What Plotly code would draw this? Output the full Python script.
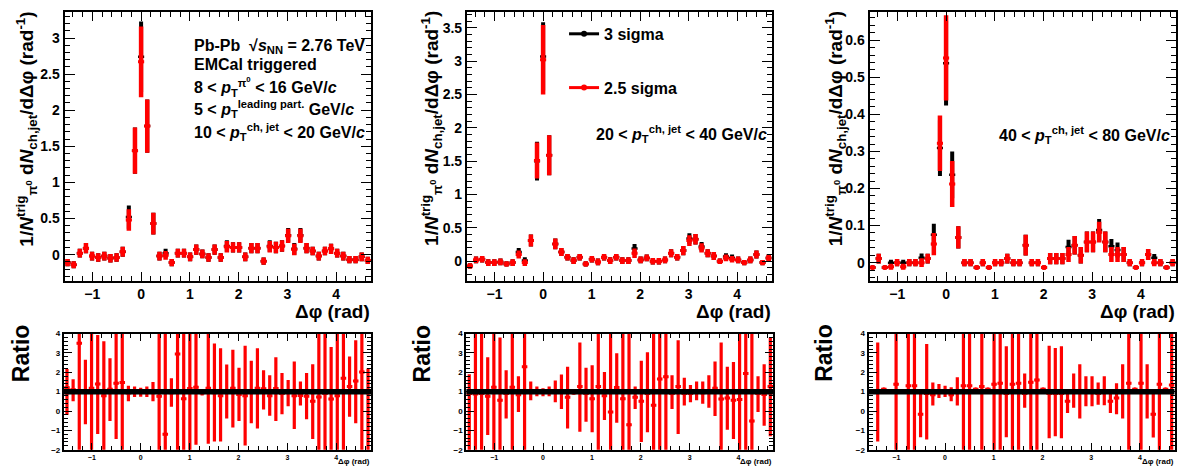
import numpy as np
import plotly.graph_objects as go

# ---------------- data ----------------
n_bins = 50
phi_min = -np.pi / 2
phi_max = 3 * np.pi / 2

# Panel 1: 10 < pT jet < 20
red_1 = [-0.11, -0.14, 0.02, 0.09, -0.02, -0.04, -0.02, -0.05, -0.04, 0.04,
         0.48, 1.44, 2.67, 1.78, 0.43, -0.02, -0.01, -0.11, 0.02, 0.02,
         -0.03, 0.07, 0.01, -0.04, 0.07, -0.04, 0.11, 0.10, 0.10, -0.03,
         0.09, 0.09, -0.09, 0.11, 0.10, 0.12, 0.26, 0.07, 0.26, 0.09,
         0.05, -0.02, 0.05, 0.08, 0.02, -0.02, -0.07, -0.07, -0.03, -0.08]
red_err_1 = [0.05, 0.05, 0.06, 0.07, 0.06, 0.06, 0.06, 0.06, 0.06, 0.07,
             0.15, 0.32, 0.49, 0.37, 0.15, 0.06, 0.06, 0.05, 0.06, 0.06,
             0.06, 0.07, 0.06, 0.06, 0.07, 0.06, 0.08, 0.07, 0.07, 0.06,
             0.07, 0.07, 0.05, 0.08, 0.08, 0.08, 0.10, 0.08, 0.10, 0.07,
             0.06, 0.06, 0.06, 0.07, 0.06, 0.06, 0.05, 0.05, 0.06, 0.05]
black_1 = [-0.11, -0.14, 0.02, 0.09, -0.02, -0.04, -0.02, -0.05, -0.04, 0.04,
           0.52, 1.44, 2.74, 1.78, 0.43, -0.02, 0.02, -0.11, 0.02, 0.02,
           -0.03, 0.07, 0.01, -0.04, 0.07, -0.04, 0.12, 0.10, 0.10, -0.03,
           0.09, 0.09, -0.09, 0.12, 0.10, 0.12, 0.27, 0.08, 0.27, 0.09,
           0.05, -0.02, 0.05, 0.08, 0.02, -0.02, -0.07, -0.07, -0.03, -0.08]
black_err_1 = [0.05, 0.05, 0.06, 0.07, 0.06, 0.06, 0.06, 0.06, 0.06, 0.07,
               0.16, 0.32, 0.49, 0.37, 0.15, 0.06, 0.06, 0.05, 0.06, 0.06,
               0.06, 0.07, 0.06, 0.06, 0.07, 0.06, 0.08, 0.07, 0.07, 0.06,
               0.07, 0.07, 0.05, 0.08, 0.08, 0.08, 0.10, 0.08, 0.10, 0.07,
               0.06, 0.06, 0.06, 0.07, 0.06, 0.06, 0.05, 0.05, 0.06, 0.05]

# Panel 2: 20 < pT jet < 40
red_2 = [-0.07, 0.02, 0.03, -0.02, -0.02, -0.01, -0.04, -0.02, 0.10, -0.02,
         0.31, 1.51, 3.02, 1.59, 0.26, 0.14, 0.06, 0.01, 0.06, -0.04,
         0.03, -0.01, 0.06, 0.01, 0.06, 0.01, 0.01, 0.12, 0.02, 0.05,
         0.0, 0.0, 0.02, 0.12, 0.06, 0.16, 0.31, 0.33, 0.20, 0.12,
         0.08, 0.0, 0.05, 0.03, 0.02, -0.02, 0.02, 0.10, -0.02, 0.05]
red_err_2 = [0.04, 0.05, 0.05, 0.05, 0.05, 0.05, 0.04, 0.05, 0.06, 0.05,
             0.09, 0.27, 0.52, 0.30, 0.08, 0.06, 0.05, 0.05, 0.05, 0.04,
             0.05, 0.05, 0.05, 0.05, 0.05, 0.05, 0.05, 0.07, 0.05, 0.05,
             0.05, 0.05, 0.05, 0.06, 0.05, 0.07, 0.08, 0.08, 0.07, 0.06,
             0.06, 0.04, 0.05, 0.05, 0.05, 0.04, 0.05, 0.06, 0.04, 0.05]
black_2 = [-0.07, 0.02, 0.03, -0.02, -0.02, -0.01, -0.04, -0.02, 0.14, 0.01,
           0.31, 1.50, 3.07, 1.59, 0.26, 0.14, 0.06, 0.01, 0.06, -0.04,
           0.03, -0.01, 0.06, 0.01, 0.06, 0.01, 0.01, 0.19, 0.02, 0.05,
           0.0, 0.0, 0.02, 0.12, 0.06, 0.16, 0.34, 0.33, 0.22, 0.12,
           0.08, 0.0, 0.07, 0.05, 0.02, -0.02, 0.02, 0.10, -0.02, 0.05]
black_err_2 = [0.04, 0.05, 0.05, 0.05, 0.05, 0.05, 0.04, 0.05, 0.06, 0.05,
               0.09, 0.29, 0.51, 0.30, 0.08, 0.06, 0.05, 0.05, 0.05, 0.04,
               0.05, 0.05, 0.05, 0.05, 0.05, 0.05, 0.05, 0.07, 0.05, 0.05,
               0.05, 0.05, 0.05, 0.06, 0.05, 0.07, 0.08, 0.08, 0.07, 0.06,
               0.06, 0.04, 0.05, 0.05, 0.05, 0.04, 0.05, 0.06, 0.04, 0.05]

# Panel 3: 40 < pT jet < 80
red_3 = [-0.013, 0.011, -0.013, -0.011, 0.0, -0.011, 0.0, 0.0, 0.0, 0.011,
         0.050, 0.322, 0.552, 0.212, 0.068, 0.0, 0.0, -0.013, 0.0, -0.013,
         0.0, 0.0, 0.011, 0.0, 0.0, 0.047, 0.0, 0.0, -0.013, 0.011,
         0.011, 0.011, 0.022, 0.047, 0.020, 0.056, 0.056, 0.082, 0.056, 0.022,
         0.022, 0.022, 0.0, -0.013, 0.0, 0.022, 0.0, 0.0, -0.013, 0.0]
red_err_3 = [0.005, 0.013, 0.005, 0.008, 0.010, 0.008, 0.010, 0.010, 0.012, 0.013,
             0.030, 0.075, 0.115, 0.062, 0.030, 0.010, 0.010, 0.005, 0.010, 0.005,
             0.010, 0.010, 0.013, 0.010, 0.010, 0.028, 0.010, 0.010, 0.005, 0.015,
             0.015, 0.015, 0.020, 0.025, 0.022, 0.028, 0.028, 0.028, 0.028, 0.020,
             0.020, 0.020, 0.010, 0.005, 0.010, 0.015, 0.010, 0.010, 0.005, 0.010]
black_3 = [-0.013, 0.011, -0.013, 0.0, 0.0, 0.0, 0.0, 0.0, 0.013, 0.011,
           0.075, 0.309, 0.538, 0.237, 0.068, 0.0, 0.0, -0.013, 0.0, -0.013,
           0.0, 0.0, 0.011, 0.0, 0.0, 0.047, 0.0, 0.0, -0.013, 0.011,
           0.011, 0.011, 0.042, 0.047, 0.020, 0.056, 0.056, 0.088, 0.056, 0.044,
           0.034, 0.022, 0.0, -0.013, 0.0, 0.022, 0.013, 0.0, -0.013, 0.0]
black_err_3 = [0.005, 0.013, 0.005, 0.008, 0.010, 0.008, 0.010, 0.010, 0.012, 0.013,
               0.030, 0.075, 0.114, 0.063, 0.030, 0.010, 0.010, 0.005, 0.010, 0.005,
               0.010, 0.010, 0.013, 0.010, 0.010, 0.028, 0.010, 0.010, 0.005, 0.015,
               0.015, 0.015, 0.020, 0.025, 0.022, 0.028, 0.028, 0.030, 0.028, 0.020,
               0.020, 0.020, 0.010, 0.005, 0.010, 0.015, 0.010, 0.010, 0.005, 0.010]

# Ratios (2.5 sigma / 3 sigma): central value, upper and lower end of the error bar
ratio_1 = [1.2, 1.1, 3.5, 1.0, 1.18, 1.4, 0.79, 1.13, 1.43, 1.47,
           0.93, 0.98, 0.97, 0.98, 1.0, 0.76, -1.2, 0.95, 2.95, 0.64,
           1.16, 1.23, 0.95, 1.18, 0.95, 0.79, 1.0, 1.18, 0.85, 0.79,
           1.0, 1.18, 1.15, 0.79, 1.16, 0.9, 1.0, 0.79, 0.8, 0.76,
           0.5, 0.72, 0.9, 0.62, 0.79, 1.69, 1.26, 1.55, 2.02, 1.0]
ratio_hi_1 = [2.17, 1.64, 4.5, 2.65, 4.5, 3.93, 3.6, 2.72, 4.5, 4.5,
              1.3, 1.26, 1.2, 1.26, 1.5, 4.5, 4.5, 1.69, 4.5, 4.5,
              4.5, 4.5, 1.1, 4.5, 3.49, 3.24, 2.4, 3.16, 2.23, 3.37,
              2.6, 3.24, 2.1, 1.85, 2.78, 1.97, 1.6, 2.56, 1.52, 1.97,
              2.41, 4.5, 4.5, 3.3, 4.5, 4.5, 2.82, 3.66, 4.5, 2.2]
ratio_lo_1 = [-0.2, 0.5, -2.5, -0.68, -2.5, -1.19, -2.5, -0.51, -1.44, -2.5,
              0.5, 0.72, 0.74, 0.72, 0.5, -2.5, -2.5, 0.22, -2.5, -2.5,
              -2.5, -1.74, 0.8, -1.69, -1.57, -1.57, -0.39, -0.85, -0.51, -1.78,
              -0.63, -0.9, 0.08, -0.25, -0.51, -0.17, 0.25, -0.93, 0.28, -0.43,
              -1.44, -2.5, -2.5, -2.5, -2.5, -2.5, -0.29, -0.63, -2.5, -2.5]

ratio_2 = [0.9, 0.88, 0.9, 0.76, 1.23, 0.55, 0.9, 1.23, 0.84, 2.28,
           1.0, 1.0, 0.98, 1.0, 1.0, 1.0, 0.71, 0.95, 1.26, 0.9,
           0.64, 1.26, 0.79, -0.05, 1.21, 0.64, -0.71, 0.71, 0.5, 0.9,
           0.3, 1.65, 1.77, 0.9, 1.26, 0.9, 0.9, 1.0, 0.95, 1.0,
           1.18, 0.62, 0.67, 0.55, 0.59, 1.94, -0.51, 0.9, 0.85, 1.26]
ratio_hi_2 = [1.9, 4.5, 4.5, 2.78, 4.5, 3.8, 2.1, 4.5, 1.8, 4.5,
              1.52, 1.26, 1.18, 1.26, 1.57, 1.89, 2.28, 1.1, 3.54, 2.24,
              2.36, 4.5, 2.02, 4.5, 2.99, 4.5, 4.5, 1.26, 2.6, 3.03,
              4.5, 4.5, 4.5, 1.85, 3.66, 1.72, 1.35, 1.52, 1.52, 1.85,
              2.56, 3.54, 2.28, 2.53, 4.5, 4.5, 4.5, 1.8, 2.41, 3.8]
ratio_lo_2 = [-2.5, -2.5, -2.5, -1.24, -2.5, -2.5, -0.39, -2.5, -0.05, -2.5,
              0.55, 0.76, 0.76, 0.76, 0.45, 0.11, -0.9, 0.85, -1.07, -0.56,
              -1.1, -2.5, -0.46, -2.5, -0.6, -2.5, -2.5, 0.11, -1.6, -1.1,
              -2.5, -2.5, -2.5, 0.11, -1.19, 0.28, 0.45, 0.55, 0.37, 0.17,
              -0.26, -2.5, -0.97, -1.44, -2.5, -2.5, -2.5, -0.05, -0.76, -1.3]

ratio_3 = [1.0, 1.0, 1.13, 1.0, 1.38, 1.0, 1.31, 1.31, -0.17, 0.9,
           0.84, 1.0, 1.0, 0.84, 1.0, 1.31, 1.31, 1.13, 1.26, 1.13,
           1.38, 1.43, 0.9, 1.38, 1.43, 0.9, 1.48, 1.6, 1.13, 0.9,
           0.9, 0.9, 0.5, 1.0, 1.0, 1.0, 1.0, 0.9, 1.0, 0.5,
           0.67, 1.0, 1.43, 1.13, 1.43, 1.0, -0.17, 1.38, 1.13, 1.35]
ratio_hi_3 = [1.05, 3.54, 1.18, 1.05, 4.5, 1.05, 4.5, 4.5, 1.0, 3.46,
              1.47, 1.4, 1.3, 1.23, 1.74, 4.5, 4.5, 1.18, 4.5, 1.18,
              4.5, 4.5, 3.34, 4.5, 4.5, 1.94, 4.5, 4.5, 1.18, 3.37,
              3.25, 3.34, 1.1, 1.94, 2.41, 1.8, 1.8, 1.47, 1.8, 1.1,
              1.43, 2.41, 4.5, 1.18, 4.5, 2.41, 1.03, 4.5, 1.18, 4.5]
ratio_lo_3 = [0.95, -1.57, 1.08, 0.95, -2.5, 0.95, -2.5, -2.5, -1.35, -1.47,
              0.28, 0.67, 0.72, 0.5, 0.28, -2.5, -2.5, 1.08, -2.5, 1.08,
              -2.5, -2.5, -1.35, -2.5, -2.5, 0.17, -2.5, -2.5, 1.08, -1.4,
              -1.3, -1.4, -0.1, 0.17, -0.39, 0.25, 0.25, 0.33, 0.3, -0.1,
              -0.17, -0.39, -2.5, 1.08, -2.5, -0.39, -1.37, -2.5, 1.08, -2.5]

series_names = ["3 sigma", "2.5 sigma"]
jet_labels = ["10 < <i>p</i><sub>T</sub><sup>ch, jet</sup> < 20 GeV/<i>c</i>",
              "20 < <i>p</i><sub>T</sub><sup>ch, jet</sup> < 40 GeV/<i>c</i>",
              "40 < <i>p</i><sub>T</sub><sup>ch, jet</sup> < 80 GeV/<i>c</i>"]

# ---------------- figure ----------------
# The page body has an 8px margin, so the figure is drawn 8px in from the
# window corner; all pixel positions below are window positions.
OFF = 8
W, H = 1186 - 2 * OFF, 475 - 2 * OFF
FONT = "Liberation Sans, Arial, Helvetica, sans-serif"
RED = "#ff0000"
BLACK = "#000000"

bin_w = (phi_max - phi_min) / n_bins
dphi = phi_min + bin_w * (np.arange(n_bins) + 0.5)
half_w = np.full(n_bins, bin_w / 2)

def px(x):
    return min(max((x - OFF) / W, 0.0), 1.0)

def py(y):
    return min(max(1 - (y - OFF) / H, 0.0), 1.0)

top_x_dom = [(64.6, 371.5), (467.7, 773.0), (871.0, 1177.7)]
rat_x_dom = [(64.0, 371.7), (467.0, 774.7), (870.0, 1176.7)]
top_y_dom = [py(282.0), py(8.0)]
rat_y_dom = [py(454.5), py(336.0)]
top_y_range = [[-0.36, 3.36], [-0.29, 3.735], [-0.0485, 0.676]]
top_y_dtick = [0.5, 0.5, 0.1]

fig = go.Figure()

reds = [red_1, red_2, red_3]
red_errs = [red_err_1, red_err_2, red_err_3]
blacks = [black_1, black_2, black_3]
black_errs = [black_err_1, black_err_2, black_err_3]
ratios = [ratio_1, ratio_2, ratio_3]
ratio_his = [ratio_hi_1, ratio_hi_2, ratio_hi_3]
ratio_los = [ratio_lo_1, ratio_lo_2, ratio_lo_3]

for i in range(3):
    xa = "x" if i == 0 else f"x{i+1}"
    ya = "y" if i == 0 else f"y{i+1}"
    fig.add_trace(go.Scatter(
        x=dphi, y=blacks[i], mode="markers", xaxis=xa, yaxis=ya, showlegend=False,
        marker=dict(color=BLACK, size=4),
        error_y=dict(type="data", array=black_errs[i], color=BLACK, thickness=4, width=0),
        error_x=dict(type="data", array=half_w, color=BLACK, thickness=2.5, width=0)))
    fig.add_trace(go.Scatter(
        x=dphi, y=reds[i], mode="markers", xaxis=xa, yaxis=ya, showlegend=False,
        marker=dict(color=RED, size=5),
        error_y=dict(type="data", array=red_errs[i], color=RED, thickness=4.5, width=0),
        error_x=dict(type="data", array=half_w, color=RED, thickness=3, width=0)))

    xr = f"x{i+4}"
    yr = f"y{i+4}"
    r = np.array(ratios[i])
    up = np.array(ratio_his[i]) - r
    dn = r - np.array(ratio_los[i])
    fig.add_trace(go.Scatter(
        x=dphi, y=r, mode="markers", xaxis=xr, yaxis=yr, showlegend=False,
        marker=dict(color=RED, size=4),
        error_y=dict(type="data", symmetric=False, array=up, arrayminus=dn,
                     color=RED, thickness=3.2, width=0),
        error_x=dict(type="data", array=half_w * 0.9, color=RED, thickness=3, width=0)))
    fig.add_trace(go.Scatter(
        x=[phi_min, phi_max], y=[1, 1], mode="lines", xaxis=xr, yaxis=yr,
        showlegend=False, line=dict(color=BLACK, width=5.5)))

# legend-only traces
fig.add_trace(go.Scatter(x=[None], y=[None], mode="lines+markers", name=series_names[0],
                         xaxis="x2", yaxis="y2", legendgroup="a",
                         line=dict(color=BLACK, width=3), marker=dict(color=BLACK, size=6)))
fig.add_trace(go.Scatter(x=[None], y=[None], mode="lines+markers", name=series_names[1],
                         xaxis="x2", yaxis="y2", legendgroup="b",
                         line=dict(color=RED, width=3), marker=dict(color=RED, size=6)))

def axis_common():
    return dict(showline=True, linewidth=2, linecolor=BLACK, mirror="allticks",
                ticks="inside", tickcolor=BLACK, tickwidth=1, showgrid=False,
                zeroline=False, fixedrange=True)

layout = dict(width=W, height=H, margin=dict(l=0, r=0, t=0, b=0), autosize=False,
              paper_bgcolor="white", plot_bgcolor="white",
              font=dict(family=FONT, color=BLACK, size=14, weight="bold"))

for i in range(3):
    kx = "xaxis" if i == 0 else f"xaxis{i+1}"
    ky = "yaxis" if i == 0 else f"yaxis{i+1}"
    a = axis_common()
    a.update(domain=[px(top_x_dom[i][0]), px(top_x_dom[i][1])],
             range=[phi_min, phi_max], anchor="y" if i == 0 else f"y{i+1}",
             tick0=0, dtick=1, ticklen=9,
             minor=dict(ticks="inside", dtick=0.2, ticklen=5, tickcolor=BLACK),
             tickfont=dict(size=14, family=FONT, weight="bold"))
    layout[kx] = a
    b = axis_common()
    b.update(domain=top_y_dom, range=top_y_range[i], anchor="x" if i == 0 else f"x{i+1}",
             tick0=0, dtick=top_y_dtick[i], ticklen=10,
             minor=dict(ticks="inside", dtick=top_y_dtick[i] / 5, ticklen=5, tickcolor=BLACK),
             tickfont=dict(size=14, family=FONT, weight="bold"))
    layout[ky] = b

    kxr = f"xaxis{i+4}"
    kyr = f"yaxis{i+4}"
    c = axis_common()
    c.update(domain=[px(rat_x_dom[i][0]), px(rat_x_dom[i][1])],
             range=[phi_min, phi_max], anchor=f"y{i+4}",
             tick0=0, dtick=1, ticklen=7,
             minor=dict(ticks="inside", dtick=0.2, ticklen=4, tickcolor=BLACK),
             tickfont=dict(size=7, family=FONT, weight="bold"))
    layout[kxr] = c
    d = axis_common()
    d.update(domain=rat_y_dom, range=[-2, 4], anchor=f"x{i+4}",
             tick0=0, dtick=1, ticklen=8,
             minor=dict(ticks="inside", dtick=0.2, ticklen=4, tickcolor=BLACK),
             tickfont=dict(size=8, family=FONT, weight="bold"))
    layout[kyr] = d

layout["legend"] = dict(x=px(565), y=py(13), xanchor="left", yanchor="top",
                        bgcolor="rgba(0,0,0,0)", tracegroupgap=30, itemwidth=30,
                        font=dict(size=16, family=FONT, weight="bold"))

fig.update_layout(**layout)

def ann(text, x, y, size, xanchor="left", yanchor="middle", angle=0):
    fig.add_annotation(text=text, x=px(x), y=py(y), xref="paper", yref="paper",
                       xanchor=xanchor, yanchor=yanchor, textangle=angle, showarrow=False,
                       borderpad=0,
                       font=dict(size=size, family=FONT, color=BLACK, weight="bold"))

ytitle = ("1/<i>N</i><sup>trig</sup><sub>π<sup>0</sup></sub> d<i>N</i><sub>ch,jet</sub>"
          "/dΔφ (rad<sup>-1</sup>)")
ytitle_x = [27, 432, 837]
ratio_x = [21, 423, 826]
for i in range(3):
    ann(ytitle, ytitle_x[i], 127, 19, xanchor="center", angle=-90)
    ann("Δφ (rad)", top_x_dom[i][1], 313, 19, xanchor="right")
    ann("Ratio", ratio_x[i], 356, 23, xanchor="center", angle=-90)
    ann("Δφ (rad)", rat_x_dom[i][1], 466, 8, xanchor="right")

# panel 1 text block
ann("Pb-Pb  √<i>s</i><sub>NN</sub> = 2.76 TeV", 193, 43, 16)
ann("EMCal triggered", 193, 62, 16)
ann("8 < <i>p</i><sub>T</sub><sup>π<sup>0</sup></sup> < 16 GeV/<i>c</i>", 193, 84, 16)
ann("5 < <i>p</i><sub>T</sub><sup>leading part.</sup> GeV/<i>c</i>", 193, 107, 16)
ann(jet_labels[0], 193, 130, 16)
ann(jet_labels[1], 596, 132, 16)
ann(jet_labels[2], 1000, 133, 16)

fig.write_html("out.html")
